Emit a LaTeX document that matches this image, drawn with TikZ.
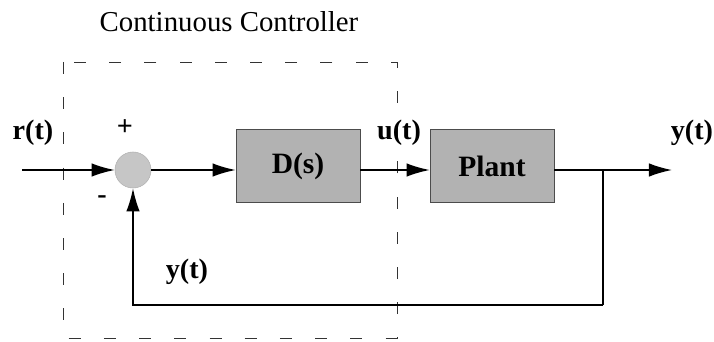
\documentclass[tikz,border=0pt]{standalone}
\usepackage{fontspec}
\setmainfont{Liberation Serif}
\usetikzlibrary{arrows.meta,positioning}

\begin{document}
\begin{tikzpicture}[x=0.025cm, y=-0.025cm,
  blk/.style={draw=gray!60!black, fill=gray!60, rectangle, minimum width=3.1cm,
    minimum height=1.82cm, align=center, font=\fontsize{21}{23}\selectfont\bfseries, inner sep=2pt},
  sumnode/.style={circle, fill=gray!45, draw=gray!60, minimum size=0.9cm, inner sep=0pt},
  lbl/.style={font=\fontsize{20}{22}\selectfont\bfseries, inner sep=1pt},
  ar/.style={-{Latex[length=5.8mm,width=3.4mm]}, line width=1.1pt},
  ln/.style={line width=1.1pt},
]
\useasboundingbox (0,0) rectangle (714,341);

%--- controller box (dashed) ---
\draw[gray!40!black, line width=0.6pt, dash pattern=on 0.3cm off 0.58cm]
  (63,62) rectangle (397,338);
\node[font=\fontsize{20.5}{22}\selectfont] (ttl) at (229,22) {Continuous Controller};

%--- blocks ---
\node[sumnode] (sum) at (133,170) {};
\node[blk] (ctrl) at (298,166) {D(s)};
\node[blk] (plant) at (492,166) {Plant};

\coordinate (rin) at (22,170);
\coordinate (br) at (603,170);
\coordinate (yout) at (672,170);
\coordinate (fbc) at (603,305);

%--- signals ---
\draw[ar] (rin) -- (sum.west);
\draw[ar] (sum.east) -- (ctrl.west |- sum.east);
\draw[ar] (ctrl.east |- sum.east) -- (plant.west |- sum.east);
\draw[ar] (plant.east |- sum.east) -- (yout);
\draw[ln] (br) -- (fbc);
\draw[ar] (fbc) -| (sum.south);

%--- labels ---
\node[lbl] (lr) at (33,133) {r(t)};
\node[lbl] (lp) at (125,128) {+};
\node[lbl] (lm) at (102,200) {-};
\node[lbl] (lu) at (399,133) {u(t)};
\node[lbl] (ly) at (692,133) {y(t)};
\node[lbl] (lfb) at (187,272) {y(t)};

\end{tikzpicture}
\end{document}
